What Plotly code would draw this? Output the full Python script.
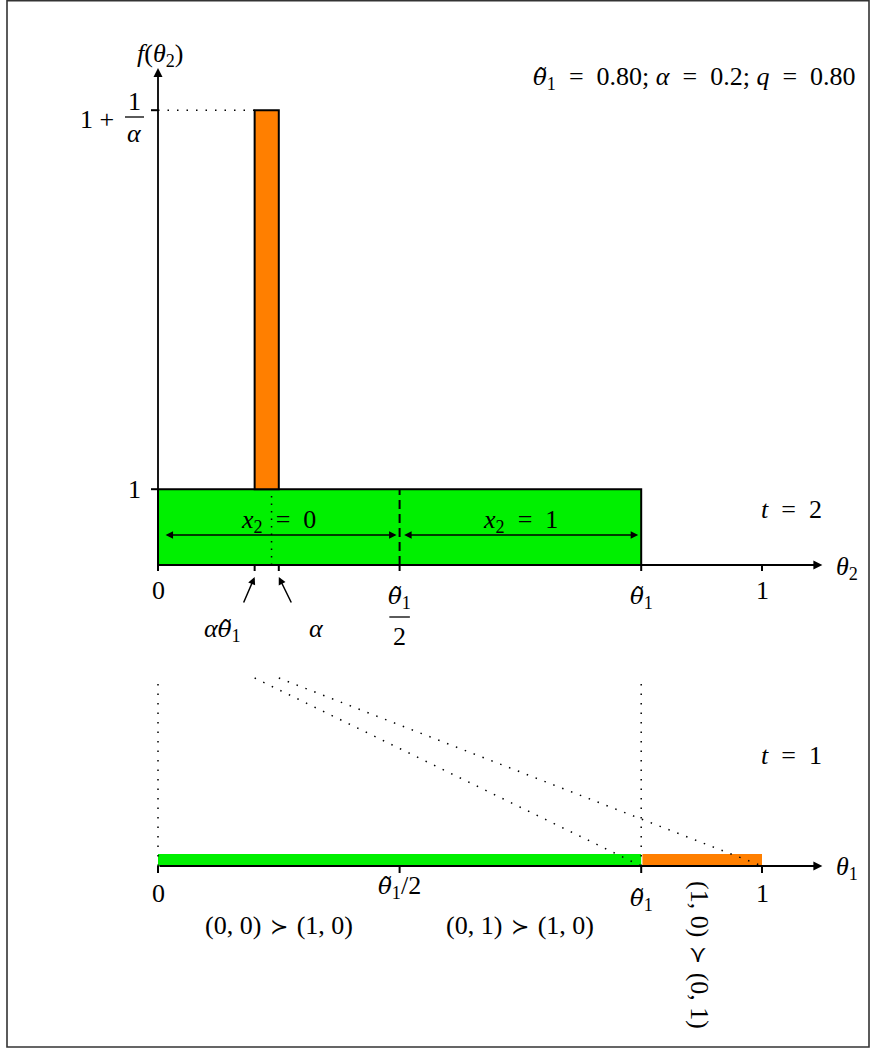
import plotly.graph_objects as go

# Model parameters
theta1_tilde = 0.80
alpha = 0.2
q = 0.80

# Period t = 2: density of theta_2
green_x = [0.0, theta1_tilde]            # uniform part on [0, theta1~]
green_f = [0.0, 1.0]
orange_x = [alpha * theta1_tilde, alpha]  # concentrated mass on [alpha*theta1~, alpha]
orange_f = [1.0, 1.0 + 1.0 / alpha]
split_x = theta1_tilde / 2               # x2 = 0 | x2 = 1
cut_x = 0.188                            # dotted cut inside the spike
top_ticks = [0.0, alpha * theta1_tilde, alpha, theta1_tilde / 2, theta1_tilde, 1.0]

# Period t = 1: segments of theta_1
seg_green = [0.0, theta1_tilde]
seg_orange = [theta1_tilde, 1.0]
bottom_ticks = [0.0, theta1_tilde / 2, theta1_tilde, 1.0]
map_from = [alpha * theta1_tilde, alpha]
map_to = [theta1_tilde, 1.0]

W, H = 876, 1049
X0, XS = 158, 604          # pixel of theta = 0, pixels per unit
Y0, YS = 565, 75.8         # top panel: pixel of f = 0, pixels per unit
B0 = 866                   # bottom panel axis pixel

GREEN = "#00f000"
ORANGE = "#ff7f00"
FONT = "Liberation Serif"
FS = 26
SP = "\u2002"              # wider space around relations
SP_PREF = "\u2004"

fig = go.Figure()
shapes = []
ann = []


def line(x0, y0, x1, y1, yref="y", width=2, dash=None, color="black"):
    d = dict(type="line", xref="x", yref=yref, x0=x0, y0=y0, x1=x1, y1=y1,
             line=dict(color=color, width=width))
    if dash:
        d["line"]["dash"] = dash
    shapes.append(d)


def rect(x0, y0, x1, y1, fill, yref="y", outline=True):
    shapes.append(dict(type="rect", xref="x", yref=yref, x0=x0, y0=y0, x1=x1, y1=y1,
                       fillcolor=fill,
                       line=dict(color="black", width=2 if outline else 0),
                       layer="below"))


def text(x, y, s, yref="y", size=FS, xanchor="center", yanchor="middle", angle=0):
    ann.append(dict(x=x, y=y, xref="x", yref=yref, text=s, showarrow=False,
                    xanchor=xanchor, yanchor=yanchor, textangle=angle,
                    font=dict(family=FONT, size=size, color="black")))


def arrow(x0, y0, x1, y1, yref="y", both=False, width=1.6, size=1.0):
    ann.append(dict(x=x1, y=y1, ax=x0, ay=y0, xref="x", yref=yref, axref="x", ayref=yref,
                    text="", showarrow=True, arrowhead=2, arrowsize=size, arrowwidth=width,
                    arrowcolor="black", standoff=0, startstandoff=0,
                    arrowside="end+start" if both else "end", startarrowhead=2,
                    startarrowsize=size))


def px_x(p):
    return (p - X0) / XS


def px_f(p):
    return (Y0 - p) / YS


def px_b(p):
    return B0 - p


TT = "<span style='font-family:DejaVu Serif;font-size:23px'><i>θ\u0303</i></span><sub>1</sub>"
EQ = SP + "=" + SP
PREF = SP_PREF + "<span style='font-family:DejaVu Serif;font-size:22px'>≻</span>" + SP_PREF

# ---------------- top panel (t = 2) ----------------
rect(green_x[0], green_f[0], green_x[1], green_f[1], GREEN)
rect(orange_x[0], orange_f[0], orange_x[1], orange_f[1], ORANGE)
line(split_x, 0, split_x, 1, dash="9px,5px")
line(cut_x, 0, cut_x, 1, width=1.5, dash="1.5px,6px")
line(0, orange_f[1], orange_x[0], orange_f[1], width=1.5, dash="1.5px,8px")

# axes
arrow(0, 0, 1.10, 0, width=1.8)
arrow(0, 0, 0, px_f(68), width=1.8)
for t in top_ticks:
    line(t, 0, t, px_f(571), width=2)
for fv in [1.0, orange_f[1]]:
    line(0, fv, px_x(151), fv, width=2)

# x2 regions
arrow(0.01, px_f(535), split_x - 0.005, px_f(535), both=True, width=1.5)
arrow(split_x + 0.005, px_f(535), theta1_tilde - 0.005, px_f(535), both=True, width=1.5)
text(px_x(278), px_f(521), "<i>x</i><sub>2</sub>" + EQ + "0")
text(px_x(520), px_f(521), "<i>x</i><sub>2</sub>" + EQ + "1")

# pointers to alpha*theta1~ and alpha
arrow(px_x(243), px_f(604), orange_x[0], px_f(577), width=1.5)
arrow(px_x(292), px_f(604), orange_x[1], px_f(577), width=1.5)
text(px_x(222), px_f(630), "<i>α</i>" + TT)
text(px_x(316), px_f(628), "<i>α</i>")

# tick labels
text(0, px_f(590), "0")
text(theta1_tilde, px_f(598), TT)
text(1.0, px_f(590), "1")
text(split_x, px_f(598), TT)
line(split_x - 0.017, px_f(617), split_x + 0.017, px_f(617), width=1.3)
text(split_x, px_f(636), "2")
text(px_x(143), 1.0, "1", xanchor="right")
text(px_x(116), px_f(119), "1 +", xanchor="right")
text(px_x(134), px_f(101), "1")
line(px_x(125), px_f(117), px_x(144), px_f(117), width=1.3)
text(px_x(134), px_f(133), "<i>α</i>")

text(px_x(160), px_f(55), "<i>f</i>(<i>θ</i><sub>2</sub>)")
text(px_x(847), px_f(568), "<i>θ</i><sub>2</sub>")
text(px_x(791), px_f(509), "<i>t</i>" + EQ + "2")
text(px_x(694), px_f(78),
     f"{TT}{EQ}{theta1_tilde:.2f}; <i>α</i>{EQ}{alpha:.1f}; <i>q</i>{EQ}{q:.2f}")

# ---------------- bottom panel (t = 1) ----------------
rect(seg_green[0], 0, seg_green[1], 12, GREEN, yref="y2", outline=False)
rect(seg_orange[0] + 0.002, 0, seg_orange[1], 12, ORANGE, yref="y2", outline=False)
for xv in [0.0, theta1_tilde]:
    line(xv, 0, xv, px_b(678), yref="y2", width=1.5, dash="1.5px,8px")
for a, b in zip(map_from, map_to):
    line(a, px_b(678), b, 0, yref="y2", width=1.5, dash="1.5px,8px")
arrow(0, 0, 1.10, 0, yref="y2", width=1.8)
for t in bottom_ticks:
    line(t, 0, t, -7, yref="y2", width=2)

text(0, px_b(893), "0", yref="y2")
text(split_x, px_b(887), TT + "/2", yref="y2")
text(theta1_tilde, px_b(900), TT, yref="y2")
text(1.0, px_b(893), "1", yref="y2")
text(px_x(279), px_b(925), "(0, 0)" + PREF + "(1, 0)", yref="y2")
text(px_x(520), px_b(925), "(0, 1)" + PREF + "(1, 0)", yref="y2")
text(px_x(700), px_b(955), "(1, 0)" + PREF + "(0, 1)", yref="y2", angle=90)
text(px_x(847), px_b(868), "<i>θ</i><sub>1</sub>", yref="y2")
text(px_x(791), px_b(755), "<i>t</i>" + EQ + "1", yref="y2")

# outer frame
shapes.append(dict(type="rect", xref="paper", yref="paper",
                   x0=7 / W, x1=869 / W, y0=1 - 1047 / H, y1=1 - 0.8 / H,
                   line=dict(color="#333333", width=1.6)))

fig.update_layout(
    width=W, height=H,
    margin=dict(l=0, r=0, t=0, b=0),
    paper_bgcolor="white", plot_bgcolor="white",
    showlegend=False,
    xaxis=dict(range=[px_x(0), px_x(W)], visible=False, fixedrange=True),
    yaxis=dict(range=[px_f(H), px_f(0)], visible=False, fixedrange=True),
    yaxis2=dict(range=[px_b(H), px_b(0)], visible=False, overlaying="y", fixedrange=True),
    shapes=shapes,
    annotations=ann,
)
# invisible anchor traces so both y axes are active
fig.add_trace(go.Scatter(x=[0], y=[0], mode="markers", marker=dict(opacity=0), hoverinfo="skip"))
fig.add_trace(go.Scatter(x=[0], y=[0], yaxis="y2", mode="markers", marker=dict(opacity=0), hoverinfo="skip"))

fig.write_html("out.html")
